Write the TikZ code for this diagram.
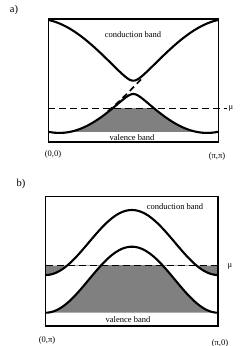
\documentclass[tikz,border=0pt]{standalone}
\usepackage{fontspec}
\setmainfont{Liberation Serif}
\begin{document}
\begin{tikzpicture}[x=1pt,y=-1pt,
  curve/.style={line width=2.1pt,line join=round},
  framebox/.style={line width=1.3pt},
  muline/.style={line width=1.5pt,dash pattern=on 7pt off 4pt},
  lab/.style={font=\fontsize{8.5}{10}\selectfont,inner sep=0pt},
  panel/.style={font=\fontsize{10.5}{12}\selectfont,inner sep=0pt},
  band/.style={fill=black!50}]
\useasboundingbox (0,0) rectangle (245,346);

% ---------------- panel a ----------------
\begin{scope}
\clip (48.3,108.3) rectangle (218.3,131.75);
\fill[band] plot[domain=0:1,samples=150,variable=\t]
  ({48.3+170*\t},{75.85+11.5*sin(180*\t)+sqrt(3080.25*cos(180*\t)*cos(180*\t)+44.2)}) -- cycle;
\end{scope}
\draw[curve] plot[domain=0:1,samples=150,variable=\t]
  ({48.3+170*\t},{75.85+11.5*sin(180*\t)-sqrt(3080.25*cos(180*\t)*cos(180*\t)+44.2)});
\draw[curve] plot[domain=0:1,samples=150,variable=\t]
  ({48.3+170*\t},{75.85+11.5*sin(180*\t)+sqrt(3080.25*cos(180*\t)*cos(180*\t)+44.2)});
\draw[curve,dash pattern=on 6pt off 4pt,line width=1.7pt] plot[domain=0.35:0.55,samples=40,variable=\t]
  ({48.3+170*\t},{75.85+11.5*sin(180*\t)+55.5*cos(180*\t)});
\coordinate (mua0) at (48.3,108.3);
\coordinate (mua1) at (227,108.3);
\draw[muline] (mua0) -- (mua1);
\draw[framebox] (48.3,19) rectangle (218.3,142);

\node[panel] (la) at (14,10) {a)};
\node[lab] (cba) at (133,35) {conduction band};
\node[lab] (vba) at (132,137.3) {valence band};
\node[lab] (mua) at (231,108) {μ};
\node[lab] (ka0) at (53,154) {(0,0)};
\node[lab] (ka1) at (217,156) {(π,π)};

% ---------------- panel b ----------------
\begin{scope}
\clip (45.7,265.7) rectangle (218,312.7);
\fill[band] plot[domain=0:1,samples=150,variable=\t]
  ({45.7+172.3*\t},{312.7-33*(1-cos(360*\t))}) -- cycle;
\fill[band] plot[domain=0:1,samples=150,variable=\t]
  ({45.7+172.3*\t},{275-32.5*(1-cos(360*\t))}) -- (218,265.7) -- (45.7,265.7) -- cycle;
\end{scope}
\draw[curve] plot[domain=0:1,samples=150,variable=\t]
  ({45.7+172.3*\t},{275-32.5*(1-cos(360*\t))});
\draw[curve] plot[domain=0:1,samples=150,variable=\t]
  ({45.7+172.3*\t},{312.7-33*(1-cos(360*\t))});
\coordinate (mub0) at (45.7,265.7);
\coordinate (mub1) at (218,265.7);
\draw[muline] (mub0) -- (mub1);
\draw[framebox] (45.7,196.2) rectangle (218,326);

\node[panel] (lb) at (21,184) {b)};
\node[lab] (cbb) at (175,207) {conduction band};
\node[lab] (vbb) at (128,320) {valence band};
\node[lab] (mub) at (230,266.5) {μ};
\node[lab] (kb0) at (47,340) {(0,π)};
\node[lab] (kb1) at (220,343) {(π,0)};
\end{tikzpicture}
\end{document}
